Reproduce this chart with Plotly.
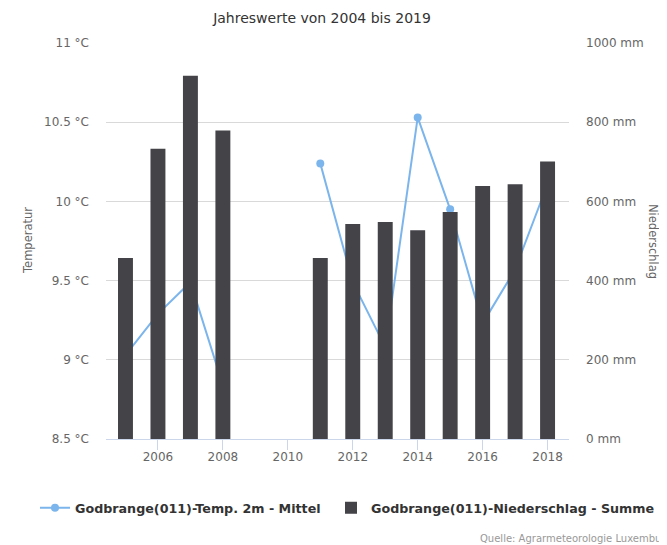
import plotly.graph_objects as go

years = [2005, 2006, 2007, 2008, 2009, 2010, 2011, 2012, 2013, 2014, 2015, 2016, 2017, 2018]
temp_mean = [9.03, 9.29, 9.49, 8.84, None, None, 10.24, 9.49, 9.08, 10.53, 9.95, 9.23, 9.57, 10.11]
precip_sum = [457, 733, 917, 779, None, None, 457, 543, 548, 527, 573, 639, 643, 701]

temp_ticks = [8.5, 9, 9.5, 10, 10.5, 11]
temp_ticklabels = ["8.5 °C", "9 °C", "9.5 °C", "10 °C", "10.5 °C", "11 °C"]
precip_ticks = [0, 200, 400, 600, 800, 1000]
precip_ticklabels = ["0 mm", "200 mm", "400 mm", "600 mm", "800 mm", "1000 mm"]
x_ticks = [2006, 2008, 2010, 2012, 2014, 2016, 2018]

FONT = "DejaVu Sans"
W, H = 659, 537          # page body has an 8px margin
L, R, T, B = 98, 98, 35, 106
PW, PH = W - L - R, H - T - B

fig = go.Figure()
fig.add_trace(go.Scatter(
    x=years, y=temp_mean, name="Godbrange(011)-Temp. 2m - Mittel",
    mode="lines+markers", connectgaps=False,
    line=dict(color="#7cb5ec", width=2),
    marker=dict(color="#7cb5ec", size=8),
    yaxis="y", legend="legend",
))
fig.add_trace(go.Bar(
    x=years, y=precip_sum, name="Godbrange(011)-Niederschlag - Summe",
    marker=dict(color="#434348", line=dict(width=0)),
    yaxis="y2", legend="legend2",
))

legend_font = dict(family=FONT, size=12.7, color="#333333", weight="bold")
leg_y = -(500 - (T + PH)) / PH

fig.update_layout(
    width=W, height=H,
    margin=dict(l=L, r=R, t=T, b=B, autoexpand=False),
    paper_bgcolor="white", plot_bgcolor="white",
    font=dict(family=FONT, color="#666666", size=12),
    bargap=0.54,
    showlegend=True,
    title=dict(text="Jahreswerte von 2004 bis 2019", x=314 / W, xanchor="center",
               y=1 - 10 / H, yanchor="middle",
               font=dict(family=FONT, size=14, color="#333333")),
    xaxis=dict(range=[2004.4, 2018.66], tickmode="array", tickvals=x_ticks,
               showgrid=False, zeroline=False, showline=True, linecolor="#ccd6eb",
               linewidth=1, ticks="outside", ticklen=10, tickcolor="#ccd6eb",
               ticklabelstandoff=-3,
               tickfont=dict(size=12, color="#666666")),
    yaxis=dict(range=[8.5, 11], tickmode="array", tickvals=temp_ticks,
               ticktext=temp_ticklabels, showgrid=True, gridcolor="#d9d9d9",
               zeroline=False, ticks="", ticklabelstandoff=16,
               tickfont=dict(size=12, color="#666666")),
    yaxis2=dict(range=[0, 1000], tickmode="array", tickvals=precip_ticks,
                ticktext=precip_ticklabels, overlaying="y", side="right",
                showgrid=False, zeroline=False, ticks="", ticklabelstandoff=16,
                tickfont=dict(size=12, color="#666666")),
    legend=dict(orientation="h", x=(27 - L) / PW, xanchor="left", y=leg_y, yanchor="middle",
                font=legend_font, itemwidth=30, bgcolor="rgba(0,0,0,0)"),
    legend2=dict(orientation="h", x=(323 - L) / PW, xanchor="left", y=leg_y, yanchor="middle",
                 font=legend_font, itemwidth=30, bgcolor="rgba(0,0,0,0)"),
    annotations=[
        dict(text="Temperatur", xref="paper", yref="paper", x=(20 - L) / PW, y=0.5,
             xanchor="center", yanchor="middle", textangle=-90, showarrow=False,
             font=dict(size=11.5, color="#666666")),
        dict(text="Niederschlag", xref="paper", yref="paper", x=(645 - L) / PW, y=0.5,
             xanchor="center", yanchor="middle", textangle=90, showarrow=False,
             font=dict(size=11.5, color="#666666")),
        dict(text="Quelle: Agrarmeteorologie Luxemburg", xref="paper", yref="paper",
             x=(470 - L) / PW, y=-(530 - (T + PH)) / PH, xanchor="left", yanchor="middle",
             showarrow=False, font=dict(size=10, color="#999999")),
    ],
)

fig.write_html("out.html")
